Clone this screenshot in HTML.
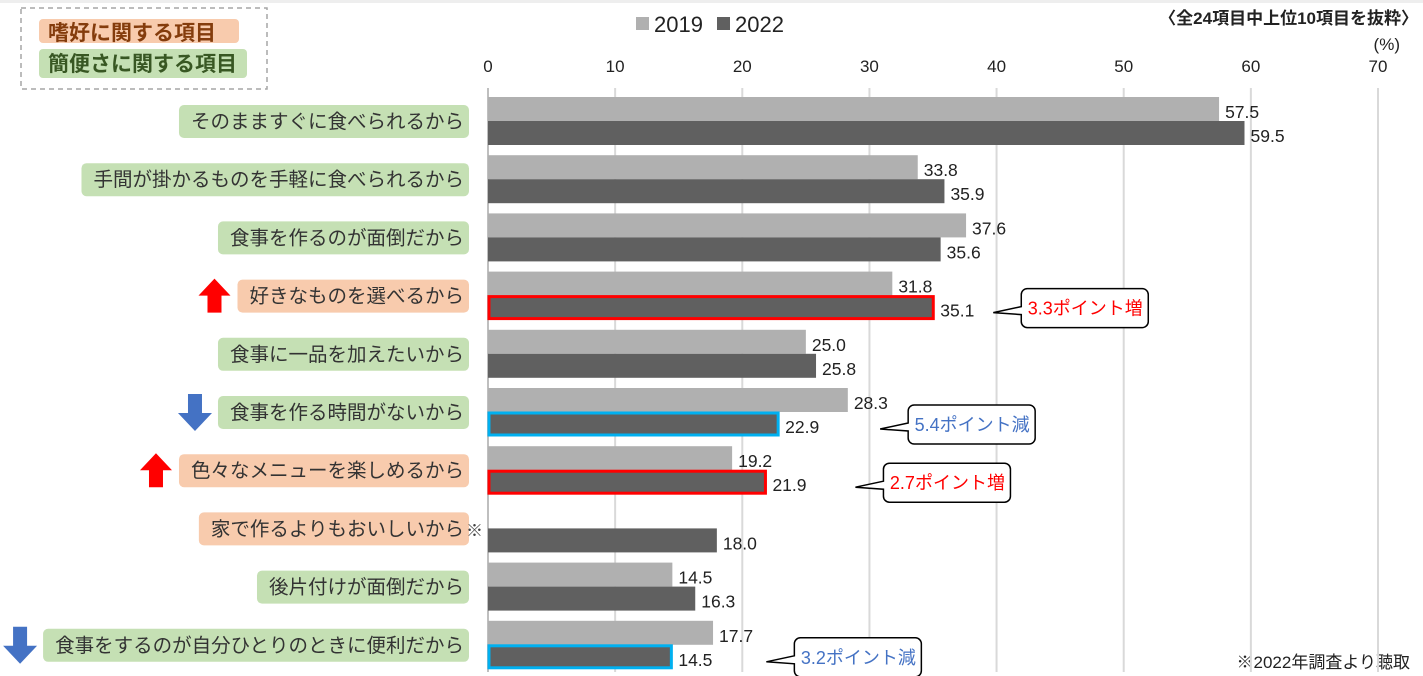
<!DOCTYPE html>
<html><head><meta charset="utf-8"><style>
body{margin:0;background:#fff;}
svg{display:block;font-family:"Liberation Sans","Noto Sans CJK JP",sans-serif;}
</style></head><body>
<svg id="c" width="1423" height="676">
<rect x="0" y="0" width="1423" height="3" fill="#eee"/>
<rect x="21" y="8" width="246" height="81" fill="none" stroke="#a6a6a6" stroke-width="1.5" stroke-dasharray="5,4"/>
<rect x="39" y="19" width="200" height="24" rx="4" fill="#f8cbad"/>
<text x="48" y="40" font-size="21" font-weight="bold" fill="#843c0c">嗜好に関する項目</text>
<rect x="39" y="49" width="208" height="29" rx="4" fill="#c5e0b4"/>
<text x="48" y="71" font-size="21" font-weight="bold" fill="#385723">簡便さに関する項目</text>
<rect x="636" y="17" width="13" height="13" fill="#b0b0b0"/>
<text x="654" y="32" font-size="22" fill="#222">2019</text>
<rect x="717" y="17" width="13" height="13" fill="#606060"/>
<text x="735" y="32" font-size="22" fill="#222">2022</text>
<text x="1418" y="24" font-size="17" font-weight="bold" fill="#222" text-anchor="end">〈全24項目中上位10項目を抜粋〉</text>
<text x="1400" y="50" font-size="17" fill="#222" text-anchor="end">(%)</text>
<text x="1410" y="668" font-size="17" fill="#222" text-anchor="end">※2022年調査より聴取</text>
<g id="g"></g>
</svg>
<script>
const categories=["そのまますぐに食べられるから","手間が掛かるものを手軽に食べられるから","食事を作るのが面倒だから","好きなものを選べるから","食事に一品を加えたいから","食事を作る時間がないから","色々なメニューを楽しめるから","家で作るよりもおいしいから","後片付けが面倒だから","食事をするのが自分ひとりのときに便利だから"];
const values2019=[57.5,33.8,37.6,31.8,25.0,28.3,19.2,null,14.5,17.7];
const values2022=[59.5,35.9,35.6,35.1,25.8,22.9,21.9,18.0,16.3,14.5];
const categoryType=["c","c","c","p","c","c","p","p","c","c"];
const trend=["","","","up","","down","up","","","down"];
const calloutText=["","","","3.3ポイント増","","5.4ポイント減","2.7ポイント増","","","3.2ポイント減"];
const ticks=[0,10,20,30,40,50,60,70];
const calloutGap=[0,0,0,87,0,129,117,0,0,122];
const NS="http://www.w3.org/2000/svg",g=document.getElementById('g');
const X0=488,X1=1378,XMAX=70;
const x=v=>X0+(v/XMAX)*(X1-X0);
const rowY=i=>97+i*58.2;
function el(t,a,txt){const e=document.createElementNS(NS,t);for(const k in a)e.setAttribute(k,a[k]);if(txt!=null)e.textContent=txt;g.appendChild(e);return e;}
ticks.forEach(t=>{
 const l=el('line',{x1:x(t),x2:x(t),y1:88,y2:672,stroke:t==0?'#bfbfbf':'#d9d9d9','stroke-width':2});
 
 
 const tx=el('text',{x:x(t),y:72,'font-size':17,fill:'#222','text-anchor':'middle'},String(t));
 
 
});
categories.forEach((c,i)=>{
 const y=rowY(i),cy=y+24;
 if(values2019[i]!=null){
  const b=el('rect',{x:X0,y:y,width:x(values2019[i])-X0,height:24,fill:'#b0b0b0'});
  
  
  const t=el('text',{x:x(values2019[i])+6,y:y+21,'font-size':17.5,fill:'#222'},values2019[i].toFixed(1));
  
  
 }
 const hl=trend[i]=='up'?'#ff0000':trend[i]=='down'?'#00b0f0':'none';
 const b2=el('rect',{x:X0+(hl!='none'?1:0),y:y+24+(hl!='none'?1:0),width:x(values2022[i])-X0-(hl!='none'?2:0),height:hl!='none'?22:24,fill:'#606060',stroke:hl,'stroke-width':hl!='none'?3:0});
 
 
 const t2=el('text',{x:x(values2022[i])+6,y:y+45,'font-size':17.5,fill:'#222'},values2022[i].toFixed(1));
 
 
 const right=469;
 const p=el('rect',{x:0,y:cy-16,width:10,height:33,rx:5,fill:categoryType[i]=='p'?'#f8cbad':'#c5e0b4'});
 
 
 const lt=el('text',{x:right-5,y:cy+7,'font-size':19.5,fill:'#333','text-anchor':'end'},c);
 
 
 const tw=lt.getComputedTextLength();
 const left=right-5-tw-12;
 p.setAttribute('x',left);p.setAttribute('width',right-left);
 if(values2019[i]==null){const m=el('text',{x:466,y:cy+8,'font-size':17,fill:'#404040'},'※');}
 if(trend[i]){
  const ax=left-23, up=trend[i]=='up';
  const col=up?'#ff0000':'#4472c4';
  const pts=up?`${ax-16},${cy} ${ax},${cy-17} ${ax+16},${cy} ${ax+7},${cy} ${ax+7},${cy+17} ${ax-7},${cy+17} ${ax-7},${cy}`
              :`${ax-17},${cy+1} ${ax},${cy+19} ${ax+17},${cy+1} ${ax+7},${cy+1} ${ax+7},${cy-18} ${ax-7},${cy-18} ${ax-7},${cy+1}`;
  const a=el('polygon',{points:pts,fill:col});
  
  
  const bx=x(values2022[i])+calloutGap[i], tipX=bx-28, by=y+17;
  const path=`M${bx+6},${by} H${bx+121} a6,6 0 0 1 6,6 V${by+33} a6,6 0 0 1 -6,6 H${bx+6} a6,6 0 0 1 -6,-6 V${by+26} L${tipX},${by+24} L${bx},${by+18} V${by+6} a6,6 0 0 1 6,-6 Z`;
  const co=el('path',{d:path,fill:'#fff',stroke:'#000','stroke-width':1.5});
  
  
  const ct=el('text',{x:bx+64,y:by+26,'font-size':18,fill:up?'#ff0000':'#4472c4','text-anchor':'middle'},calloutText[i]);
  
  
 }
});
</script>
</body></html>
